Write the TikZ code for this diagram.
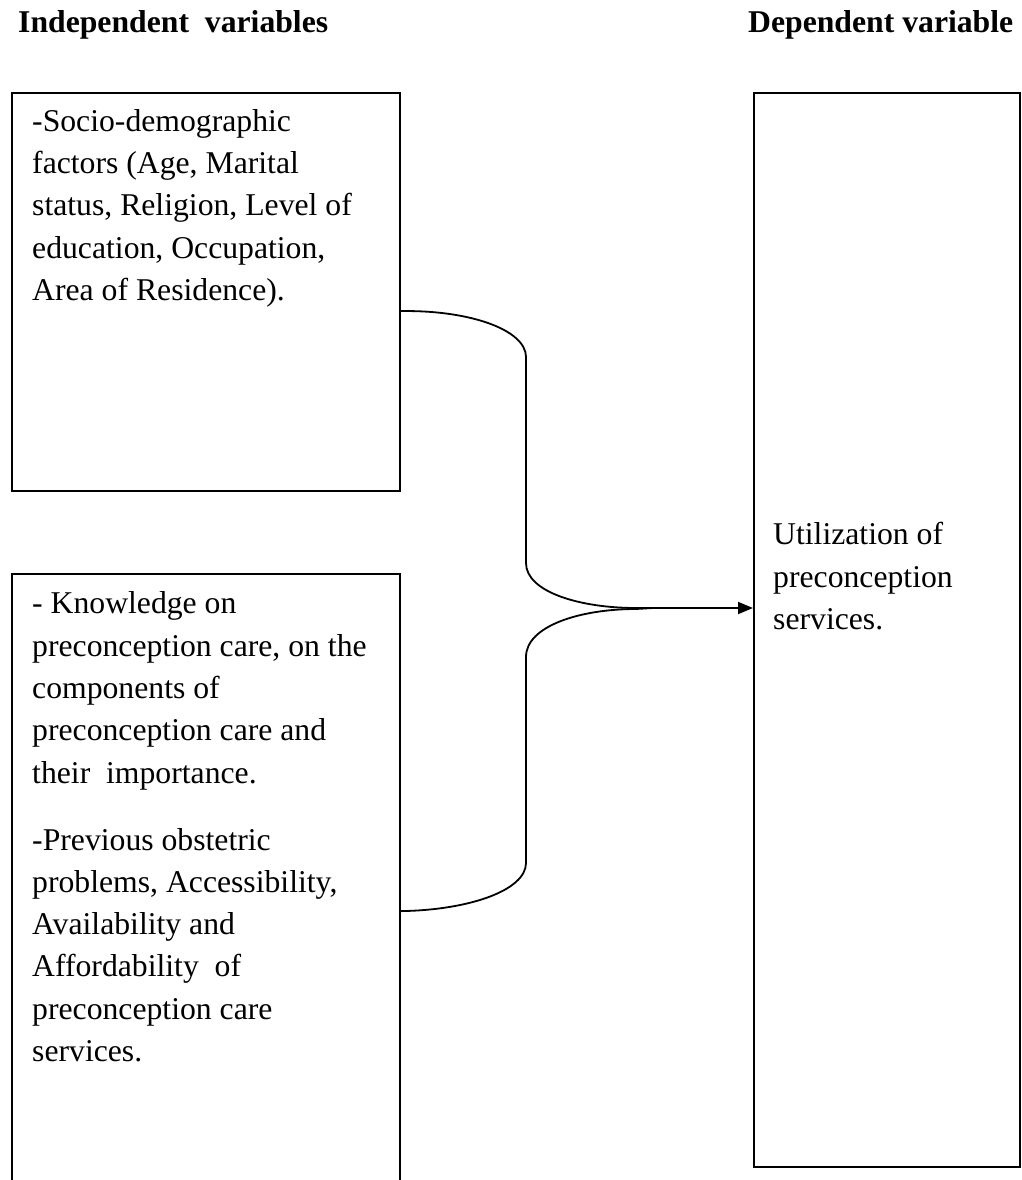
\documentclass[tikz,border=0pt]{standalone}
\usepackage{fontspec}
\setmainfont{Liberation Serif}
\usetikzlibrary{arrows.meta}
\begin{document}
\begin{tikzpicture}[x=1pt,y=-1pt,
  boxline/.style={draw=black,line width=2.2pt,inner sep=0pt,anchor=north west},
  bodytext/.style={anchor=base west,inner sep=0pt,align=left,font=\fontsize{31.7}{42.3}\selectfont},
  headtext/.style={anchor=base west,inner sep=0pt,font=\fontsize{31.7}{38}\selectfont\bfseries},
  link/.style={draw=black,line width=1.8pt},
  arrowlink/.style={link,-{Triangle[length=15pt,width=12pt]}}]
\useasboundingbox (0,0) rectangle (1021,1180);
\clip (0,0) rectangle (1021,1180);
% headers
\node[headtext] (hind) at (18,33) {Independent\ \ variables};
\node[headtext] (hdep) at (748,33) {Dependent variable};
% boxes
\node[boxline,minimum width=388pt,minimum height=398pt] (socio) at (11,92) {};
\node[boxline,minimum width=388pt,minimum height=640pt] (know) at (11,573) {};
\node[boxline,minimum width=266pt,minimum height=1074pt] (util) at (753,92) {};
% texts (anchored at the baseline of their last line)
\node[bodytext] (tsocio) at (32,300.5) {-Socio-demographic\\factors (Age, Marital\\status, Religion, Level of\\education, Occupation,\\Area of Residence).};
\node[bodytext] (tknow) at (32,1061.5) {- Knowledge on\\preconception care, on the\\components of\\preconception care and\\their\ \ importance.\\[24.7pt]-Previous obstetric\\problems, Accessibility,\\Availability and\\Affordability\ \ of\\preconception care\\services.};
\node[bodytext] (tutil) at (773,629.5) {Utilization of\\preconception\\services.};
% connectors
\coordinate (join) at (653,608);
\coordinate (s1) at ([yshift=-19pt]socio.east);
\coordinate (k1) at ([yshift=-17pt]know.east);
\draw[link] (s1) .. controls (470,310) and (526,330) .. (526,357) -- (526,563)
  .. controls (526,592) and (580,608) .. (636,608) -- (join);
\draw[link] (k1) .. controls (470,910) and (526,890) .. (526,863) -- (526,657)
  .. controls (526,626) and (580,609) .. (636,609) -- (join);
\draw[arrowlink] (join) -- (util.west |- join);
\end{tikzpicture}
\end{document}
